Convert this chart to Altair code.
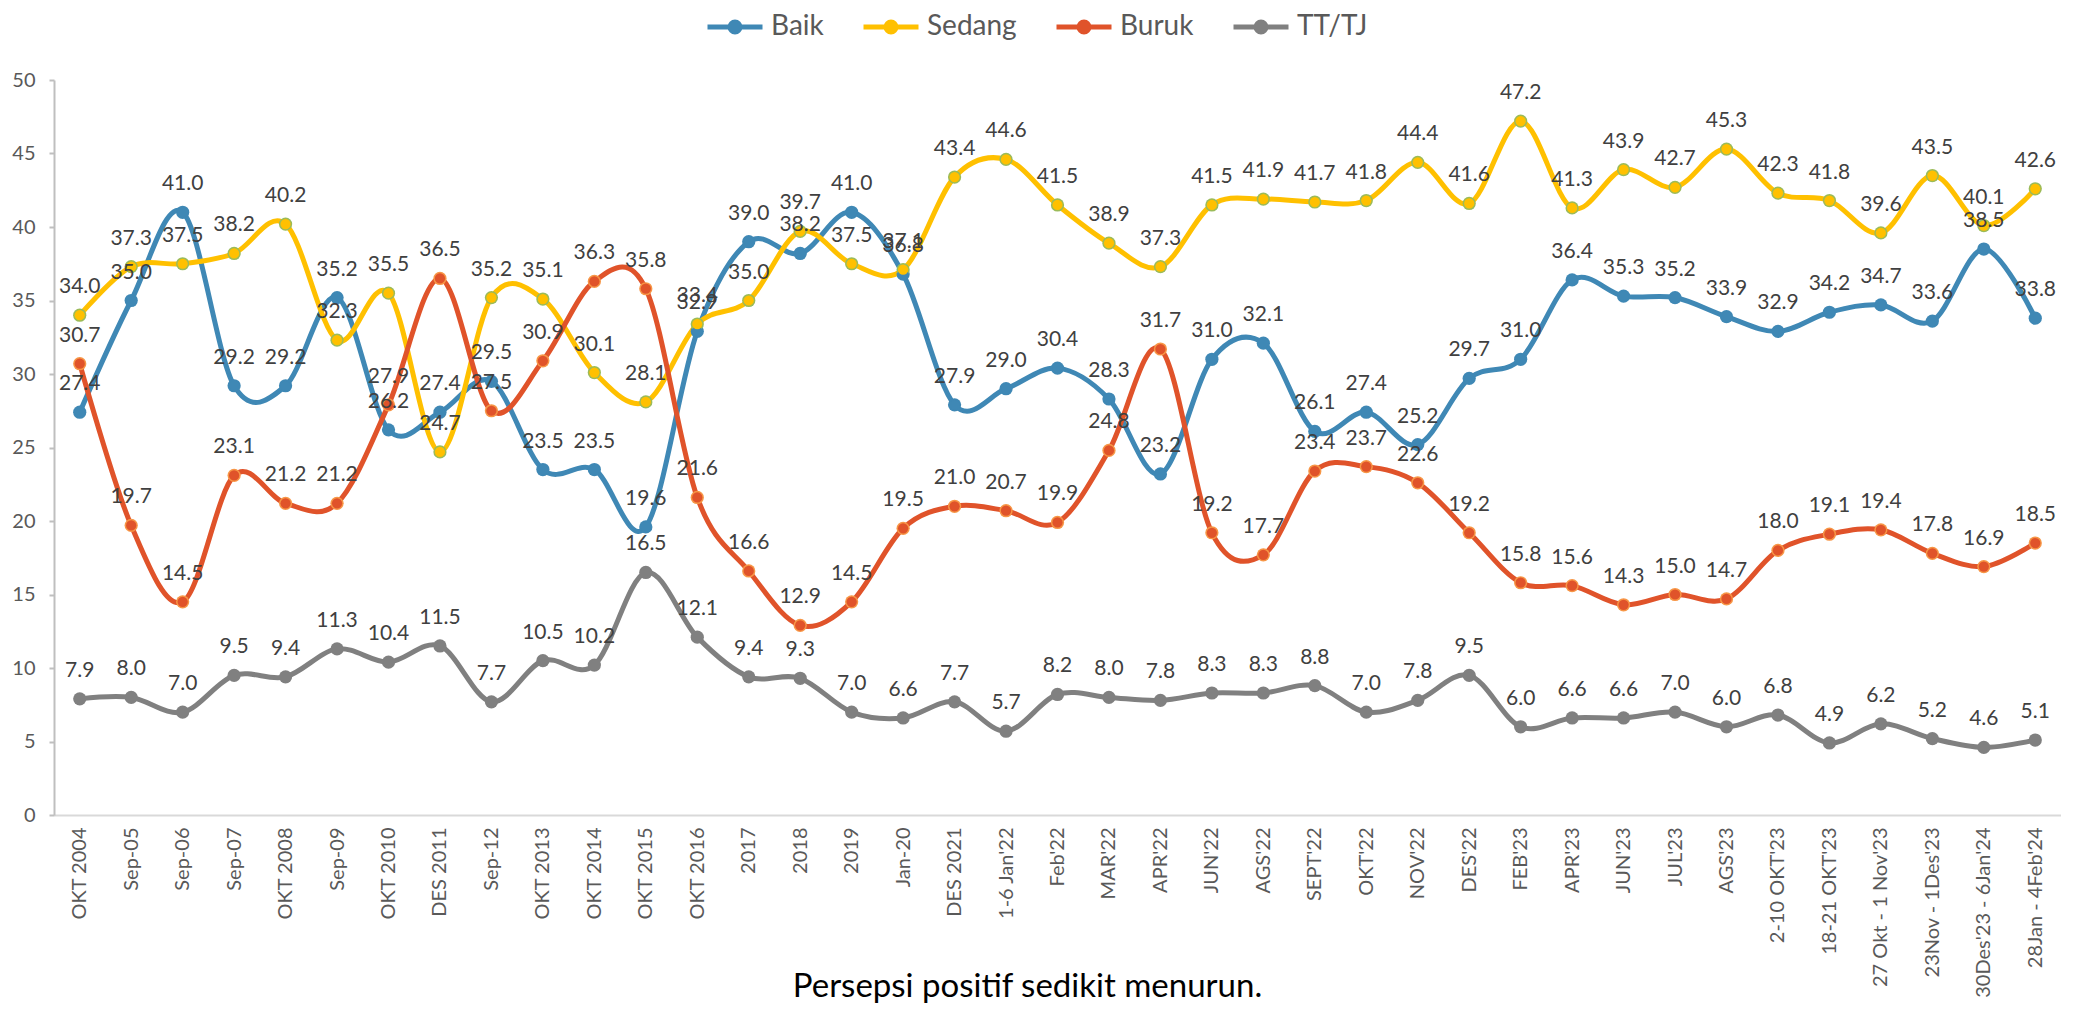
import altair as alt
import pandas as pd

categories = [
    "OKT 2004", "Sep-05", "Sep-06", "Sep-07", "OKT 2008", "Sep-09", "OKT 2010",
    "DES 2011", "Sep-12", "OKT 2013", "OKT 2014", "OKT 2015", "OKT 2016", "2017",
    "2018", "2019", "Jan-20", "DES 2021", "1-6 Jan'22", "Feb'22", "MAR'22", "APR'22",
    "JUN'22", "AGS'22", "SEPT'22", "OKT'22", "NOV'22", "DES'22", "FEB'23", "APR'23",
    "JUN'23", "JUL'23", "AGS'23", "2-10 OKT'23", "18-21 OKT'23", "27 Okt - 1 Nov'23",
    "23Nov - 1Des'23", "30Des'23 - 6Jan'24", "28Jan - 4Feb'24",
]
baik = [27.4, 35.0, 41.0, 29.2, 29.2, 35.2, 26.2, 27.4, 29.5, 23.5, 23.5, 19.6, 32.9,
        39.0, 38.2, 41.0, 36.8, 27.9, 29.0, 30.4, 28.3, 23.2, 31.0, 32.1, 26.1, 27.4,
        25.2, 29.7, 31.0, 36.4, 35.3, 35.2, 33.9, 32.9, 34.2, 34.7, 33.6, 38.5, 33.8]
sedang = [34.0, 37.3, 37.5, 38.2, 40.2, 32.3, 35.5, 24.7, 35.2, 35.1, 30.1, 28.1, 33.4,
          35.0, 39.7, 37.5, 37.1, 43.4, 44.6, 41.5, 38.9, 37.3, 41.5, 41.9, 41.7, 41.8,
          44.4, 41.6, 47.2, 41.3, 43.9, 42.7, 45.3, 42.3, 41.8, 39.6, 43.5, 40.1, 42.6]
buruk = [30.7, 19.7, 14.5, 23.1, 21.2, 21.2, 27.9, 36.5, 27.5, 30.9, 36.3, 35.8, 21.6,
         16.6, 12.9, 14.5, 19.5, 21.0, 20.7, 19.9, 24.8, 31.7, 19.2, 17.7, 23.4, 23.7,
         22.6, 19.2, 15.8, 15.6, 14.3, 15.0, 14.7, 18.0, 19.1, 19.4, 17.8, 16.9, 18.5]
tttj = [7.9, 8.0, 7.0, 9.5, 9.4, 11.3, 10.4, 11.5, 7.7, 10.5, 10.2, 16.5, 12.1,
        9.4, 9.3, 7.0, 6.6, 7.7, 5.7, 8.2, 8.0, 7.8, 8.3, 8.3, 8.8, 7.0,
        7.8, 9.5, 6.0, 6.6, 6.6, 7.0, 6.0, 6.8, 4.9, 6.2, 5.2, 4.6, 5.1]

series_names = ["Baik", "Sedang", "Buruk", "TT/TJ"]
line_colors = ["#3F88B5", "#FFC000", "#E0532A", "#808080"]
outline_colors = ["#3F88B5", "#9BBB59", "#F79646", "#808080"]

rows = []
for name, vals in zip(series_names, [baik, sedang, buruk, tttj]):
    for c, v in zip(categories, vals):
        rows.append({"cat": c, "series": name, "value": v})
df = pd.DataFrame(rows)

FONT = "Lato"

x_enc = alt.X(
    "cat:N",
    sort=categories,
    scale=alt.Scale(type="point", padding=0.5),
    axis=alt.Axis(
        labelAngle=-90, labelFontSize=20, labelFont=FONT, labelColor="#595959",
        labelPadding=12, ticks=False, domainColor="#D9D9D9", domainWidth=2,
        labelLimit=400,
        title="Persepsi positif sedikit menurun.", titleX=973, titleY=181,
        titleAlign="center", titleBaseline="alphabetic", titleFontSize=33,
        titleFont=FONT, titleFontWeight="normal", titleColor="#000000", titleAngle=0,
    ),
)
y_enc = alt.Y(
    "value:Q",
    scale=alt.Scale(domain=[0, 50], nice=False),
    axis=alt.Axis(
        values=list(range(0, 51, 5)), grid=False, domainColor="#BFBFBF", domainWidth=2,
        tickColor="#BFBFBF", tickSize=5, tickWidth=2, labelFontSize=20, labelFont=FONT,
        labelColor="#595959", labelPadding=14, title=None,
    ),
)

legend_path = ("M-1,0L1,0M-0.18,0A0.18,0.18,0,1,1,0.18,0"
               "A0.18,0.18,0,1,1,-0.18,0Z")
legend = alt.Legend(
    orient="none", legendX=651, legendY=-83, direction="horizontal", columns=4,
    title=None, symbolType=legend_path, symbolSize=3025, symbolStrokeWidth=5,
    labelFontSize=28, labelFont=FONT, labelColor="#595959", labelOffset=6,
    columnPadding=29, padding=0, labelLimit=500,
)

base = alt.Chart(df)

lines = base.mark_line(interpolate="cardinal", strokeWidth=5).encode(
    x=x_enc, y=y_enc,
    stroke=alt.Stroke("series:N", scale=alt.Scale(domain=series_names, range=line_colors),
                      legend=legend),
)
outer_pts = base.mark_point(filled=True, size=175, opacity=1).encode(
    x=x_enc, y=y_enc,
    color=alt.Color("series:N", scale=alt.Scale(domain=series_names, range=outline_colors),
                    legend=None),
)
inner_pts = base.mark_point(filled=True, size=105, opacity=1).encode(
    x=x_enc, y=y_enc,
    fill=alt.Fill("series:N", scale=alt.Scale(domain=series_names, range=line_colors),
                  legend=legend),
)
labels = base.mark_text(dy=-22, fontSize=21, font=FONT, color="#404040",
                        baseline="alphabetic", align="center").encode(
    x=x_enc, y=y_enc, text=alt.Text("value:Q", format=".1f"),
)

chart = alt.layer(lines, outer_pts, inner_pts, labels).properties(
    width=2007, height=735,
    autosize=alt.AutoSizeParams(type="none"),
    padding={"left": 46, "top": 72, "right": 0, "bottom": 190},
).configure_view(stroke=None)

chart.save("out.html", embed_options={"renderer": "svg", "actions": False})
